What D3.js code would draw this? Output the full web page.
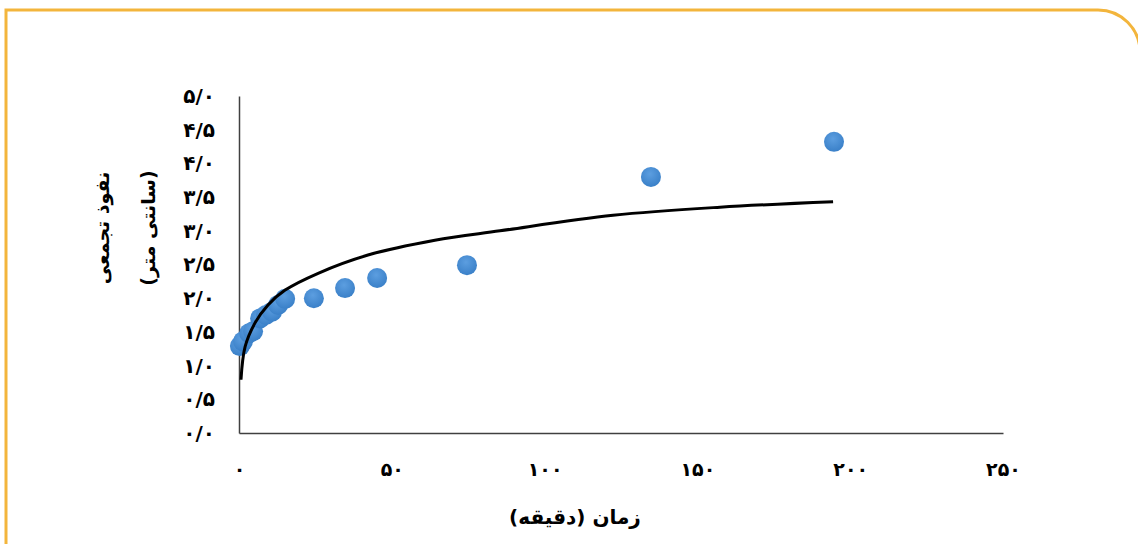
<!DOCTYPE html>
<html>
<head>
<meta charset="utf-8">
<script src="https://cdn.jsdelivr.net/npm/d3@7"></script>
<style>
  body { margin: 0; background: #fff; }
  svg text { font-family: "DejaVu Sans", sans-serif; font-weight: bold; fill: #000; }
</style>
</head>
<body>
<div id="chart"></div>
<script>
// measured points (time in minutes, cumulative infiltration in cm)
var timeMin = [0.3, 1.3, 3.3, 4.6, 6.9, 8.8, 10.8, 12.8, 15.1, 24.5, 34.7, 45.2, 74.6, 134.8, 194.7];
var infiltration = [1.29, 1.36, 1.48, 1.51, 1.70, 1.75, 1.80, 1.90, 1.99, 2.00, 2.15, 2.30, 2.49, 3.80, 4.32];

// fitted trend line
var trendX = [0.65, 2.0, 5.2, 9.5, 15.1, 25.9, 42.2, 64.1, 85.4, 122.4, 157.4, 194.4];
var trendY = [0.79, 1.28, 1.63, 1.90, 2.12, 2.37, 2.64, 2.86, 3.00, 3.23, 3.35, 3.43];

var xTicks = [0, 50, 100, 150, 200, 250];
var xTickLabels = ["۰", "۵۰", "۱۰۰", "۱۵۰", "۲۰۰", "۲۵۰"];
var yTicks = [0, 0.5, 1, 1.5, 2, 2.5, 3, 3.5, 4, 4.5, 5];
var yTickLabels = ["۰/۰", "۰/۵", "۱/۰", "۱/۵", "۲/۰", "۲/۵", "۳/۰", "۳/۵", "۴/۰", "۴/۵", "۵/۰"];

var xTitle = "زمان (دقیقه)";
var yTitle1 = "نفوذ تجمعی";
var yTitle2 = "(سانتی متر)";

var W = 1138, H = 544;
var svg = d3.select("#chart").append("svg")
    .attr("width", W)
    .attr("height", H);

// orange frame
svg.append("path")
    .attr("d", "M6,600 L6,10 L1098,10 A42,42 0 0 1 1140,52 L1140,600")
    .attr("fill", "none")
    .attr("stroke", "#F3B53C")
    .attr("stroke-width", 3);

var x = d3.scaleLinear().domain([0, 250]).range([239, 1003]);
var y = d3.scaleLinear().domain([0, 5]).range([433, 96]);

// x axis
var xAxis = svg.append("g")
    .attr("transform", "translate(0,433)")
    .call(d3.axisBottom(x).tickValues(xTicks).tickSize(0).tickPadding(30)
        .tickFormat(function (d, i) { return xTickLabels[i]; }));
xAxis.select(".domain").attr("stroke", "#404040").attr("stroke-width", 1.5);
xAxis.selectAll("text").style("font-size", "19px").style("font-family", "DejaVu Sans");

// y axis
var yAxis = svg.append("g")
    .attr("transform", "translate(239,0)")
    .call(d3.axisLeft(y).tickValues(yTicks).tickSize(0).tickPadding(24)
        .tickFormat(function (d, i) { return yTickLabels[i]; }));
yAxis.select(".domain").attr("stroke", "#404040").attr("stroke-width", 1.5);
yAxis.selectAll("text").style("font-size", "20px").style("font-family", "DejaVu Sans");

// axis titles
svg.append("text")
    .attr("x", 575)
    .attr("y", 524)
    .attr("text-anchor", "middle")
    .style("font-size", "20px")
    .text(xTitle);

svg.append("text")
    .attr("transform", "translate(109,228) rotate(-90)")
    .attr("text-anchor", "middle")
    .style("font-size", "19px")
    .text(yTitle1);

svg.append("text")
    .attr("transform", "translate(155,228) rotate(-90)")
    .attr("text-anchor", "middle")
    .style("font-size", "19px")
    .text(yTitle2);

// points
var defs = svg.append("defs");
var grad = defs.append("radialGradient")
    .attr("id", "dotGrad")
    .attr("cx", "45%").attr("cy", "35%").attr("r", "65%");
grad.append("stop").attr("offset", "0%").attr("stop-color", "#5C9EE0");
grad.append("stop").attr("offset", "100%").attr("stop-color", "#3A80C8");

var pts = timeMin.map(function (t, i) { return { t: t, v: infiltration[i] }; });
svg.selectAll(".dot")
    .data(pts)
    .enter().append("circle")
    .attr("class", "dot")
    .attr("cx", function (d) { return x(d.t); })
    .attr("cy", function (d) { return y(d.v); })
    .attr("r", 10)
    .attr("fill", "url(#dotGrad)");

// trend line
var trend = trendX.map(function (t, i) { return [t, trendY[i]]; });
svg.append("path")
    .datum(trend)
    .attr("fill", "none")
    .attr("stroke", "#000")
    .attr("stroke-width", 3)
    .attr("d", d3.line()
        .x(function (d) { return x(d[0]); })
        .y(function (d) { return y(d[1]); })
        .curve(d3.curveCatmullRom.alpha(0.5)));
</script>
</body>
</html>
